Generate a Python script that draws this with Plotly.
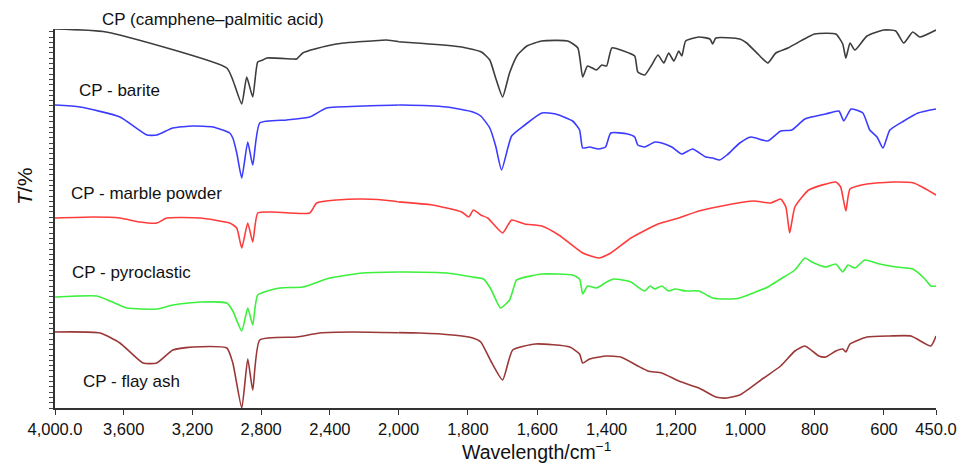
import plotly.graph_objects as go

# FTIR transmittance spectra (stacked, arbitrary T units), wavenumber in cm^-1
cp_wn = [4000, 3703, 3000, 2965, 2913, 2884, 2849, 2820, 2791, 2767, 2616, 2593, 2558,
         2419, 2320, 2160, 2070, 1948, 1818, 1761, 1737, 1720, 1700, 1680, 1657, 1630,
         1587, 1512, 1483, 1469, 1455, 1429, 1414, 1400, 1385, 1351, 1319, 1310, 1290,
         1270, 1252, 1235, 1221, 1206, 1192, 1183, 1172, 1134, 1102, 1094, 1085, 1016,
         996, 961, 935, 912, 877, 800, 739, 719, 710, 698, 684, 649, 600, 566, 543, 517,
         497, 450]
cp_t = [379, 376, 340, 328, 304, 331, 311, 346, 348, 350, 349, 349, 355,
        362, 365, 367, 368, 365, 361, 356, 348, 330, 311, 335, 353, 362,
        367, 367, 360, 331, 342, 338, 343, 342, 360, 357, 352, 336, 333,
        343, 353, 345, 355, 347, 357, 352, 367, 371, 369, 364, 370, 369,
        365, 353, 345, 355, 360, 374, 374, 364, 350, 365, 358, 372, 378, 377, 365, 376,
        371, 378]

barite_wn = [4000, 3855, 3622, 3465, 3407, 3314, 3198, 3081, 2983, 2965, 2942, 2913, 2878,
             2849, 2808, 2651, 2517, 2419, 2209, 1988, 1861, 1786, 1763, 1737, 1720, 1703,
             1674, 1636, 1587, 1547, 1498, 1478, 1469, 1449, 1423, 1403, 1388, 1339, 1319,
             1310, 1290, 1261, 1241, 1212, 1183, 1152, 1114, 1094, 1074, 1053, 1016, 984,
             935, 898, 866, 828, 768, 730, 716, 695, 661, 641, 620, 603, 583, 543, 502, 450]
barite_t = [303, 301, 291, 273, 273, 280, 282, 281, 275, 270, 255, 230, 266,
            243, 285, 288, 291, 300, 302, 303, 301, 296, 292, 280, 262, 238,
            272, 283, 295, 294, 287, 278, 260, 261, 259, 261, 275, 274, 271,
            263, 261, 266, 265, 261, 254, 259, 251, 250, 248, 253, 265, 271,
            267, 277, 278, 289, 294, 297, 287, 299, 295, 278, 271, 260, 278, 287, 295, 299]

marble_wn = [4000, 3779, 3622, 3506, 3407, 3349, 3157, 2983, 2942, 2913, 2878, 2849, 2820,
             2733, 2517, 2477, 2360, 2209, 2035, 1902, 1818, 1798, 1784, 1763, 1743, 1700,
             1674, 1636, 1587, 1538, 1469, 1423, 1388, 1330, 1252, 1192, 1134, 1053, 976,
             926, 898, 883, 872, 857, 817, 739, 725, 710, 698, 649, 572, 514, 450]
marble_t = [190, 191, 190, 186, 185, 190, 190, 185, 180, 160, 185, 166, 195,
            196, 195, 205, 208, 209, 207, 203, 196, 191, 198, 193, 190, 175,
            188, 184, 182, 173, 155, 150, 155, 170, 184, 190, 197, 203, 207,
            205, 209, 201, 175, 201, 218, 226, 221, 197, 219, 224, 226, 225, 213]

pyro_wn = [4000, 3756, 3680, 3581, 3407, 3314, 3157, 3000, 2965, 2913, 2878, 2849, 2820,
           2692, 2558, 2401, 2209, 1977, 1861, 1786, 1755, 1734, 1706, 1680, 1660, 1645,
           1587, 1498, 1478, 1469, 1455, 1429, 1400, 1379, 1330, 1310, 1290, 1275, 1261,
           1241, 1221, 1203, 1172, 1134, 1094, 1053, 1016, 935, 898, 857, 828, 808, 768,
           739, 719, 704, 684, 655, 612, 563, 517, 482, 465, 450]
pyro_t = [111, 112, 107, 100, 99, 103, 106, 105, 97, 77, 100, 83, 113,
          120, 121, 130, 135, 136, 135, 131, 129, 119, 100, 108, 128, 130,
          134, 133, 129, 114, 122, 120, 126, 129, 126, 121, 117, 122, 119,
          122, 117, 119, 117, 117, 110, 109, 110, 121, 129, 138, 150, 146, 141,
          144, 136, 143, 140, 148, 144, 141, 139, 129, 122, 122]

flyash_wn = [4000, 3738, 3622, 3488, 3407, 3314, 3198, 3000, 2965, 2913, 2878, 2849, 2808,
             2593, 2459, 2267, 1939, 1844, 1786, 1763, 1734, 1700, 1671, 1605, 1506, 1478,
             1469, 1449, 1400, 1359, 1310, 1281, 1241, 1192, 1134, 1085, 1053, 1016, 947,
             898, 857, 828, 788, 768, 739, 719, 710, 698, 649, 583, 522, 465, 450]
flyash_t = [76, 75, 65, 45, 45, 58, 61, 60, 45, 0, 49, 18, 68,
            71, 75, 76, 75, 73, 70, 66, 47, 28, 58, 64, 61, 54,
            45, 49, 52, 51, 42, 37, 35, 27, 20, 11, 10, 13, 30,
            42, 57, 62, 52, 51, 57, 59, 56, 64, 71, 72, 72, 62, 72]

names = ["CP (camphene–palmitic acid)", "CP - barite", "CP - marble powder",
         "CP - pyroclastic", "CP - flay ash"]
colors = ["#3d3d3d", "#3c3cff", "#ff3c3c", "#3cf03c", "#9a3838"]
series = [(cp_wn, cp_t), (barite_wn, barite_t), (marble_wn, marble_t),
          (pyro_wn, pyro_t), (flyash_wn, flyash_t)]

# The wavenumber axis is split at 2000 cm^-1: the high range is drawn at half scale
BREAK = 2000
left_ticks = [4000, 3600, 3200, 2800, 2400]
left_text = ["4,000.0", "3,600", "3,200", "2,800", "2,400"]
right_ticks = [2000, 1800, 1600, 1400, 1200, 1000, 800, 600, 450]
right_text = ["2,000", "1,800", "1,600", "1,400", "1,200", "1,000", "800", "600", "450.0"]

W, H = 973, 467
ML, MR, MT, MB = 55, 37, 29, 59
split = 0.39
FONT = "Liberation Sans, Arial"

fig = go.Figure()
for name, color, (wn, t) in zip(names, colors, series):
    # high-wavenumber part (keep one point past the break so the line runs to the edge)
    idx_hi = [i for i, w in enumerate(wn) if w >= BREAK]
    idx_hi.append(idx_hi[-1] + 1)
    idx_lo = [i for i, w in enumerate(wn) if w <= BREAK]
    idx_lo.insert(0, idx_lo[0] - 1)
    line = dict(color=color, width=1.6, shape="spline", smoothing=0.5)
    fig.add_trace(go.Scatter(x=[wn[i] for i in idx_hi], y=[t[i] for i in idx_hi],
                             mode="lines", line=line, name=name, legendgroup=name,
                             showlegend=False, xaxis="x", yaxis="y"))
    fig.add_trace(go.Scatter(x=[wn[i] for i in idx_lo], y=[t[i] for i in idx_lo],
                             mode="lines", line=line, name=name, legendgroup=name,
                             showlegend=False, xaxis="x2", yaxis="y"))

axis_common = dict(showline=True, linecolor="#333333", linewidth=1.5, ticks="outside",
                   ticklen=5, tickwidth=1.2, tickcolor="#333333", showgrid=False,
                   zeroline=False, tickfont=dict(family=FONT, size=16.5, color="#111111"),
                   tickmode="array")

fig.update_layout(
    width=W, height=H,
    margin=dict(l=ML, r=MR, t=MT, b=MB),
    paper_bgcolor="white", plot_bgcolor="white",
    xaxis=dict(domain=[0, split], range=[4000, BREAK], tickvals=left_ticks,
               ticktext=left_text, anchor="y", **axis_common),
    xaxis2=dict(domain=[split, 1], range=[BREAK, 450], tickvals=right_ticks,
                ticktext=right_text, anchor="y", **axis_common),
    yaxis=dict(range=[0, 379], showline=True, linecolor="#333333", linewidth=1.5,
               ticks="outside", ticklen=4, tickwidth=1, tickcolor="#444444",
               tick0=0, dtick=5.3, showticklabels=False, showgrid=False, zeroline=False),
    showlegend=False,
)

plot_w = W - ML - MR
plot_h = H - MT - MB


def px_to_paper(px, py):
    return (px - ML) / plot_w, (H - MB - py) / plot_h


label_pos = [(100, 19), (77, 90), (69, 193), (70, 272), (81, 381)]
font_lbl = dict(family=FONT, size=17, color="#111111")
for name, (px, py) in zip(names, label_pos):
    xp, yp = px_to_paper(px, py)
    fig.add_annotation(x=xp, y=yp, xref="paper", yref="paper", text=name,
                       showarrow=False, xanchor="left", yanchor="middle", font=font_lbl)

xp, yp = px_to_paper(536, 451)
fig.add_annotation(x=xp, y=yp, xref="paper", yref="paper",
                   text="Wavelength/cm<sup>−1</sup>", showarrow=False,
                   xanchor="center", yanchor="middle",
                   font=dict(family=FONT, size=19.5, color="#111111"))

xp, yp = px_to_paper(24, 187)
fig.add_annotation(x=xp, y=yp, xref="paper", yref="paper", text="<i>T</i>/%",
                   showarrow=False, textangle=-90, xanchor="center", yanchor="middle",
                   font=dict(family=FONT, size=21, color="#111111"))

fig.write_html("out.html")
